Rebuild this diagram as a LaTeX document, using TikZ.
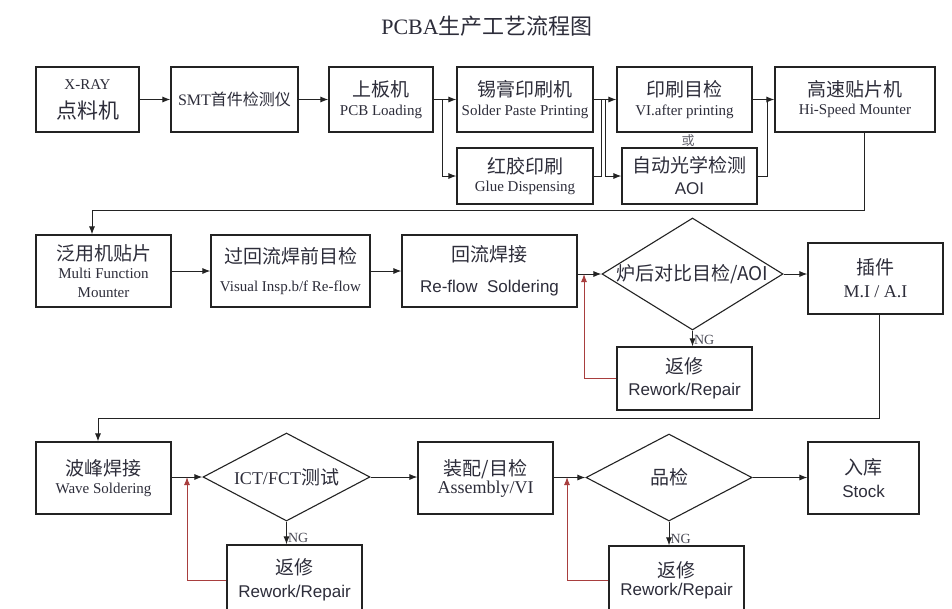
\documentclass[tikz,border=0pt]{standalone}
\usepackage{fontspec}
\setmainfont{Liberation Serif}
\setsansfont{Liberation Sans}
\newfontfamily\zhfont{Noto Sans CJK SC}
\usetikzlibrary{shapes.geometric,arrows.meta}
\definecolor{flowink}{RGB}{45,45,58}
\definecolor{flowline}{RGB}{35,35,35}
\definecolor{flowred}{RGB}{168,62,62}
\newcommand{\zh}[1]{{\zhfont\fontsize{19}{22}\selectfont #1}}
\newcommand{\en}[1]{{\fontsize{15}{17}\selectfont #1}}
\newcommand{\ensf}[1]{{\sffamily\fontsize{17}{20}\selectfont #1}}
\newcommand{\enbig}[1]{{\fontsize{18}{21}\selectfont #1}}

\begin{document}
\begin{tikzpicture}[x=1pt,y=-1pt,
    >={Latex[length=8pt,width=6pt]},
    flow/.style={draw=flowline, line width=1pt},
    redo/.style={draw=flowred, line width=1pt},
    box/.style={draw=flowline, line width=1.1pt, rectangle, align=center,
        text=flowink, inner sep=2pt, font=\fontsize{15}{18}\selectfont},
    decision/.style={draw=flowline, line width=1.1pt, diamond, inner sep=0pt},
    dlabel/.style={text=flowink, inner sep=0pt},
    ng/.style={text=flowink!85, inner sep=1pt, font=\fontsize{14}{16}\selectfont}]
\useasboundingbox (0,0) rectangle (952,608);
\clip (0,0) rectangle (952,608);
\fill[white] (0,0) rectangle (952,608);

% Title
\node[text=flowink] (title) at (487,26) {\fontsize{22}{26}\selectfont PCBA{\zhfont 生产工艺流程图}};

% First row: printing line
\node[box, minimum width=103, minimum height=65] (xray) at (87.5,99.5) {\en{X-RAY}\\[11pt]{\zhfont\fontsize{21}{24}\selectfont 点料机}};
\node[box, minimum width=127, minimum height=65] (smt) at (234.5,99.5) {{\fontsize{16}{19}\selectfont SMT}{\zhfont\fontsize{16}{19}\selectfont 首件检测仪}};
\node[box, minimum width=104, minimum height=65] (pcb) at (381,99.5) {\zh{上板机}\\[1.6pt]\en{PCB Loading}};
\node[box, minimum width=136, minimum height=65] (solder) at (525,99.5) {\zh{锡膏印刷机}\\[0.6pt]\en{Solder Paste Printing}};
\node[box, minimum width=136, minimum height=56] (glue) at (525,176) {\zh{红胶印刷}\\\en{Glue Dispensing}};
\node[box, minimum width=135, minimum height=65] (vi) at (684.5,99.5) {\zh{印刷目检}\\[0.6pt]\en{VI.after printing}};
\node[box, minimum width=135, minimum height=56] (aoi) at (689.5,176) {\zh{自动光学检测}\\[4pt]\ensf{AOI}};
\node[box, minimum width=160, minimum height=65] (hs) at (855,99.5) {\zh{高速贴片机}\\\en{Hi-Speed Mounter}};
\node[text=flowink!75, inner sep=0pt, font=\zhfont\fontsize{13}{15}\selectfont] (orlbl) at (688,141) {或};

\coordinate (fork1) at (442,99.5);
\coordinate (join1) at (601,99.5);
\coordinate (fork2) at (605,99.5);
\coordinate (join2) at (767,99.5);
\draw[flow,->] (xray) -- (smt);
\draw[flow,->] (smt) -- (pcb);
\draw[flow,->] (pcb) -- (solder);
\draw[flow,->] (fork1) |- (glue.west);
\draw[flow,->] (solder) -- (vi);
\draw[flow] (glue.east) -| (join1);
\draw[flow,->] (fork2) |- (aoi.west);
\draw[flow,->] (vi) -- (hs);
\draw[flow] (aoi.east) -| (join2);

% Second row: placement and reflow
\node[box, minimum width=135, minimum height=72] (multi) at (103.5,271) {\zh{泛用机贴片}\\[0.6pt]\en{Multi Function}\\[1pt]\en{Mounter}};
\node[box, minimum width=159, minimum height=72] (vis) at (290.5,271) {\zh{过回流焊前目检}\\[10.6pt]\en{Visual Insp.b/f Re-flow}};
\node[box, minimum width=175, minimum height=72] (reflow) at (489.5,271) {\zh{回流焊接}\\[12.8pt]\ensf{Re-flow\ \ Soldering}};
\node[decision, minimum width=181, minimum height=112, label={[dlabel]center:\zh{炉后对比目检/AOI}}] (chk1) at (692.5,274) {};
\node[box, minimum width=135, minimum height=63] (rw1) at (684.5,378.5) {\zh{返修}\\[3.8pt]\ensf{Rework/Repair}};
\node[box, minimum width=135, minimum height=71] (mi) at (875.5,278.5) {\zh{插件}\\[4.8pt]\enbig{M.I / A.I}};

\coordinate (bend1) at (864,210);
\coordinate (bend2) at (92,210);
\coordinate (back1) at (584,274);
\draw[flow,->] (hs.south -| bend1) -- (bend1) -- (bend2) -- (multi.north -| bend2);
\draw[flow,->] (multi) -- (vis);
\draw[flow,->] (vis) -- (reflow);
\draw[flow,->] (reflow.east |- chk1.west) -- (chk1.west);
\draw[flow,->] (chk1.east) -- (chk1.east -| mi.west);
\draw[flow,->] (chk1.south) -- (chk1.south |- rw1.north) node[ng, anchor=south west, pos=1] {NG};
\draw[redo,->] (rw1.west) -| (back1);

% Third row: wave soldering to stock
\node[box, minimum width=135, minimum height=72] (wave) at (103.5,478) {\zh{波峰焊接}\\[0.6pt]\en{Wave Soldering}};
\node[decision, minimum width=167, minimum height=88, label={[dlabel]center:\enbig{ICT/FCT}\zh{测试}}] (chk2) at (286.5,477) {};
\node[box, minimum width=135, minimum height=70] (rw2) at (294.5,580) {\zh{返修}\\[4.8pt]\ensf{Rework/Repair}};
\node[box, minimum width=135, minimum height=72] (asm) at (485.5,478) {\zh{装配/目检}\\\enbig{Assembly/VI}};
\node[decision, minimum width=166, minimum height=87, label={[dlabel]center:\zh{品检}}] (chk3) at (669,477.5) {};
\node[box, minimum width=135, minimum height=69] (rw3) at (676.5,580.5) {\zh{返修}\\\ensf{Rework/Repair}};
\node[box, minimum width=111, minimum height=72] (stock) at (863.5,478) {\zh{入库}\\[5.8pt]\ensf{Stock}};

\coordinate (bend3) at (879,418);
\coordinate (bend4) at (98,418);
\coordinate (back2) at (187,477);
\coordinate (back3) at (567,477);
\draw[flow,->] (mi.south -| bend3) -- (bend3) -- (bend4) -- (wave.north -| bend4);
\draw[flow,->] (wave.east |- chk2.west) -- (chk2.west);
\draw[flow,->] (chk2.east) -- (chk2.east -| asm.west);
\draw[flow,->] (asm.east |- chk3.west) -- (chk3.west);
\draw[flow,->] (chk3.east) -- (chk3.east -| stock.west);
\draw[flow,->] (chk2.south) -- (chk2.south |- rw2.north) node[ng, anchor=south west, pos=1] {NG};
\draw[flow,->] (chk3.south) -- (chk3.south |- rw3.north) node[ng, anchor=south west, pos=1] {NG};
\draw[redo,->] (rw2.west) -| (back2);
\draw[redo,->] (rw3.west) -| (back3);
\end{tikzpicture}
\end{document}
